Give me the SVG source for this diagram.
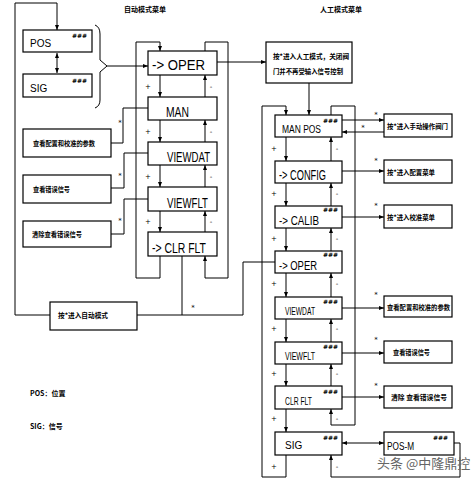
<svg xmlns="http://www.w3.org/2000/svg" width="475" height="480" viewBox="0 0 475 480">
<defs>
<marker id="a" viewBox="0 0 10 10" refX="10" refY="5" markerWidth="5" markerHeight="5" orient="auto-start-reverse"><path d="M0,1 L10,5 L0,9 z" fill="#000"/></marker>
<style>
.box{fill:#fff;stroke:#000;stroke-width:1.2}
.ln{fill:none;stroke:#000;stroke-width:1}
.ar{marker-end:url(#a)}
.da{marker-start:url(#a);marker-end:url(#a)}
.en{font-family:"Liberation Sans",Arial,sans-serif;fill:#000}
.big{font-size:14px}
.mid{font-size:12px}
.sm{font-size:10px}
.cn{font-family:"Noto Sans CJK SC","Noto Sans",sans-serif;font-weight:bold;font-size:7px;fill:#000}
.hh{font-family:"DejaVu Sans",sans-serif;font-weight:bold;font-size:6px;fill:#000}
.lb{font-family:"DejaVu Sans",sans-serif;font-size:7px;fill:#000}
</style>
</defs>
<rect width="475" height="480" fill="#fff"/>

<text class="cn" x="145" y="12" text-anchor="middle">自动模式菜单</text>
<text class="cn" x="341" y="12" text-anchor="middle">人工模式菜单</text>

<g id="connectors">
<path class="ln ar" d="M50,315 H15 V3 H57 V30"/>
<path class="ln da" d="M57,53 V73"/>
<path class="ln" d="M95,25 Q100,27 100,34 V60 L107,66 L100,72 V100 Q100,106 95,108"/>
<path class="ln ar" d="M107,66 H148"/>
<path class="ln ar" d="M160,75 V97"/>
<path class="ln ar" d="M160,120 V142"/>
<path class="ln ar" d="M160,165 V187"/>
<path class="ln ar" d="M160,211 V232"/>
<path class="ln ar" d="M205,97 V75"/>
<path class="ln ar" d="M205,142 V120"/>
<path class="ln ar" d="M205,187 V165"/>
<path class="ln ar" d="M205,232 V211"/>
<path class="ln ar" d="M160,256 V278 H136 V42 H160 V51"/>
<path class="ln ar" d="M205,51 V42 H228 V278 H205 V256"/>
<path class="ln" d="M148,108 H123 V143 H111"/>
<path class="ln" d="M148,153 H124 V188 H111"/>
<path class="ln" d="M148,199 H124 V234 H111"/>
<path class="ln" d="M182,256 V315"/>
<path class="ln" d="M137,315 H243 V262 H275"/>
<path class="ln ar" d="M217,62 H266"/>
<path class="ln ar" d="M309,83 V115"/>
<path class="ln ar" d="M286,137 V161"/>
<path class="ln ar" d="M286,183 V206"/>
<path class="ln ar" d="M286,228 V251"/>
<path class="ln ar" d="M286,273 V297"/>
<path class="ln ar" d="M286,319 V342"/>
<path class="ln ar" d="M286,364 V386"/>
<path class="ln ar" d="M286,409 V432"/>
<path class="ln ar" d="M331,161 V137"/>
<path class="ln ar" d="M331,206 V183"/>
<path class="ln ar" d="M331,251 V228"/>
<path class="ln ar" d="M331,297 V273"/>
<path class="ln ar" d="M331,342 V319"/>
<path class="ln ar" d="M331,386 V364"/>
<path class="ln ar" d="M286,455 V477 H262 V106 H286 V115"/>
<path class="ln ar" d="M331,115 V106 H355 V425 H331 V409"/>
<path class="ln ar" d="M454,443 H460 V477 H331 V455"/>
<path class="ln da" d="M342,443 H384"/>
<path class="ln ar" d="M342,120 H384"/>
<path class="ln ar" d="M384,132 H342"/>
<path class="ln ar" d="M342,171 H384"/>
<path class="ln ar" d="M342,217 H384"/>
<path class="ln ar" d="M342,308 H384"/>
<path class="ln ar" d="M342,353 H384"/>
<path class="ln ar" d="M342,397 H384"/>
<g class="lb" text-anchor="middle">
<text x="148" y="89">+</text><text x="148" y="134">+</text><text x="148" y="179">+</text><text x="148" y="224">+</text>
<text x="211" y="89">-</text><text x="211" y="134">-</text><text x="211" y="179">-</text><text x="211" y="224">-</text>
<text x="120" y="125">*</text><text x="120" y="178">*</text><text x="120" y="223">*</text>
<text x="193" y="310">*</text>
<text x="274" y="151">+</text><text x="274" y="196">+</text><text x="274" y="241">+</text><text x="274" y="286">+</text><text x="274" y="331">+</text><text x="274" y="376">+</text><text x="274" y="421">+</text><text x="274" y="469">+</text>
<text x="337" y="151">-</text><text x="337" y="196">-</text><text x="337" y="241">-</text><text x="337" y="286">-</text><text x="337" y="331">-</text><text x="337" y="376">-</text><text x="337" y="421">-</text><text x="337" y="469">-</text>
<text x="376" y="117">*</text><text x="363" y="130">*</text>
<text x="376" y="163">*</text><text x="376" y="208">*</text><text x="376" y="297">*</text><text x="376" y="342">*</text><text x="376" y="388">*</text>
</g>
</g>

<g id="n-pos"><rect class="box" x="23" y="30" width="69" height="22"/><text class="en sm" x="30" y="47">POS</text><text class="hh" x="72" y="38">###</text></g>
<g id="n-sig"><rect class="box" x="23" y="74" width="69" height="23"/><text class="en sm" x="30" y="92">SIG</text><text class="hh" x="72" y="83">###</text></g>

<g id="a-oper"><rect class="box" x="148" y="51" width="69" height="24"/><text class="en big" x="152" y="70" textLength="53" lengthAdjust="spacingAndGlyphs">-&gt; OPER</text></g>
<g id="a-man"><rect class="box" x="148" y="97" width="69" height="23"/><text class="en big" x="166" y="117" textLength="23" lengthAdjust="spacingAndGlyphs">MAN</text></g>
<g id="a-viewdat"><rect class="box" x="148" y="142" width="69" height="23"/><text class="en big" x="167" y="162" textLength="43" lengthAdjust="spacingAndGlyphs">VIEWDAT</text></g>
<g id="a-viewflt"><rect class="box" x="148" y="187" width="69" height="24"/><text class="en big" x="167" y="208" textLength="41" lengthAdjust="spacingAndGlyphs">VIEWFLT</text></g>
<g id="a-clrflt"><rect class="box" x="148" y="232" width="69" height="24"/><text class="en big" x="152" y="253" textLength="54" lengthAdjust="spacingAndGlyphs">-&gt; CLR FLT</text></g>

<g id="d-a1"><rect class="box" x="23" y="129" width="88" height="28"/><text class="cn" x="33" y="146" textLength="62" lengthAdjust="spacingAndGlyphs">查看配置和校准的参数</text></g>
<g id="d-a2"><rect class="box" x="23" y="175" width="88" height="28"/><text class="cn" x="33" y="192" textLength="37" lengthAdjust="spacingAndGlyphs">查看错误信号</text></g>
<g id="d-a3"><rect class="box" x="23" y="221" width="88" height="26"/><text class="cn" x="32" y="237" textLength="50" lengthAdjust="spacingAndGlyphs">清除查看错误信号</text></g>

<g id="n-auto"><rect class="box" x="50" y="302" width="87" height="28"/><text class="cn" x="58" y="318" textLength="50" lengthAdjust="spacingAndGlyphs">按*进入自动模式</text></g>

<g id="n-manual"><rect class="box" x="266" y="42" width="86" height="41"/><text class="cn" x="273" y="59" textLength="76" lengthAdjust="spacingAndGlyphs">按*进入人工模式，关闭阀</text><text class="cn" x="273" y="74" textLength="70" lengthAdjust="spacingAndGlyphs">门并不再受输入信号控制</text></g>

<g id="m-manpos"><rect class="box" x="275" y="115" width="67" height="22"/><text class="en sm" x="282" y="133" textLength="39" lengthAdjust="spacingAndGlyphs">MAN POS</text><text class="hh" x="323" y="123">###</text></g>
<g id="m-config"><rect class="box" x="275" y="161" width="67" height="22"/><text class="en big" x="279" y="180" textLength="47" lengthAdjust="spacingAndGlyphs">-&gt; CONFIG</text></g>
<g id="m-calib"><rect class="box" x="275" y="206" width="67" height="22"/><text class="en mid" x="279" y="225" textLength="40" lengthAdjust="spacingAndGlyphs">-&gt; CALIB</text><text class="hh" x="323" y="212">###</text></g>
<g id="m-oper"><rect class="box" x="275" y="251" width="67" height="22"/><text class="en mid" x="279" y="270" textLength="38" lengthAdjust="spacingAndGlyphs">-&gt; OPER</text><text class="hh" x="323" y="257">###</text></g>
<g id="m-viewdat"><rect class="box" x="275" y="297" width="67" height="22"/><text class="en sm" x="285" y="315" textLength="30" lengthAdjust="spacingAndGlyphs">VIEWDAT</text><text class="hh" x="323" y="304">###</text></g>
<g id="m-viewflt"><rect class="box" x="275" y="342" width="67" height="22"/><text class="en sm" x="285" y="360" textLength="30" lengthAdjust="spacingAndGlyphs">VIEWFLT</text><text class="hh" x="323" y="349">###</text></g>
<g id="m-clrflt"><rect class="box" x="275" y="386" width="67" height="23"/><text class="en sm" x="285" y="405" textLength="27" lengthAdjust="spacingAndGlyphs">CLR FLT</text><text class="hh" x="323" y="394">###</text></g>
<g id="m-sig"><rect class="box" x="275" y="432" width="67" height="23"/><text class="en sm" x="285" y="449">SIG</text><text class="hh" x="323" y="440">###</text></g>
<g id="m-posm"><rect class="box" x="384" y="432" width="70" height="23"/><text class="en sm" x="387" y="450" textLength="27" lengthAdjust="spacingAndGlyphs">POS-M</text><text class="hh" x="433" y="440">###</text></g>

<g id="d-m1"><rect class="box" x="384" y="114" width="68" height="23"/><text class="cn" x="387" y="129" textLength="61" lengthAdjust="spacingAndGlyphs">按*进入手动操作阀门</text></g>
<g id="d-m2"><rect class="box" x="384" y="160" width="68" height="23"/><text class="cn" x="387" y="175" textLength="48" lengthAdjust="spacingAndGlyphs">按*进入配置菜单</text></g>
<g id="d-m3"><rect class="box" x="384" y="205" width="68" height="23"/><text class="cn" x="387" y="220" textLength="48" lengthAdjust="spacingAndGlyphs">按*进入校准菜单</text></g>
<g id="d-m4"><rect class="box" x="384" y="296" width="68" height="21"/><text class="cn" x="387" y="310" textLength="63" lengthAdjust="spacingAndGlyphs">查看配置和校准的参数</text></g>
<g id="d-m5"><rect class="box" x="384" y="341" width="68" height="22"/><text class="cn" x="393" y="355" textLength="37" lengthAdjust="spacingAndGlyphs">查看错误信号</text></g>
<g id="d-m6"><rect class="box" x="384" y="386" width="68" height="22"/><text class="cn" x="391" y="400" textLength="56" lengthAdjust="spacingAndGlyphs">清除 查看错误信号</text></g>

<text class="cn" x="30" y="396">POS：位置</text>
<text class="cn" x="30" y="429">SIG：信号</text>

<text x="377" y="468" font-family="'Noto Sans CJK SC',sans-serif" font-size="13" fill="#666">头条 @中隆鼎控</text>
</svg>
